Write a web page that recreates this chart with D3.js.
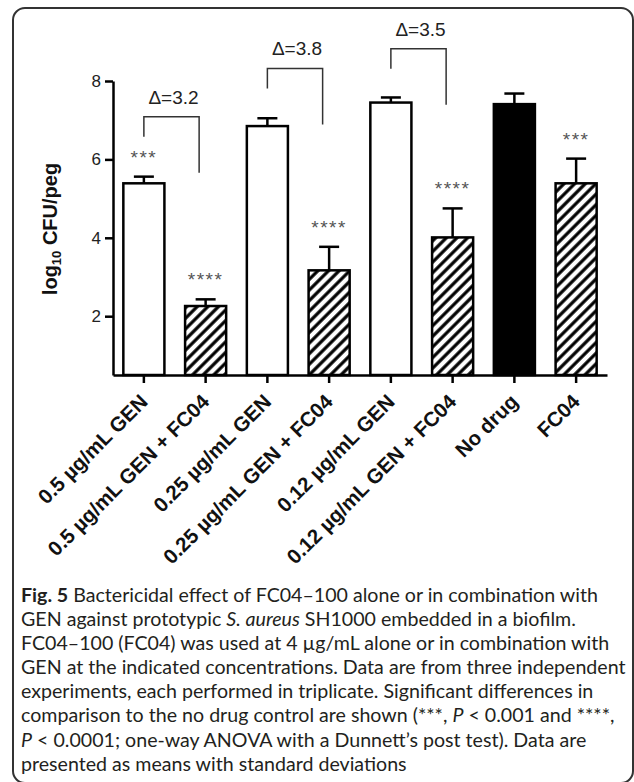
<!DOCTYPE html>
<html>
<head>
<meta charset="utf-8">
<script src="https://cdn.jsdelivr.net/npm/d3@7"></script>
<style>
  body { margin: 0; background: #fff; }
  svg { display: block; }
</style>
</head>
<body>
<div id="chart"></div>
<script>
// values
const groups = [
  "0.5 µg/mL GEN", "0.5 µg/mL GEN + FC04",
  "0.25 µg/mL GEN", "0.25 µg/mL GEN + FC04",
  "0.12 µg/mL GEN", "0.12 µg/mL GEN + FC04",
  "No drug", "FC04"
];
const means = [5.39, 2.26, 6.85, 3.17, 7.45, 4.01, 7.41, 5.39];
const sds = [0.17, 0.17, 0.20, 0.60, 0.13, 0.74, 0.27, 0.63];
const fillKinds = ["open", "hatch", "open", "hatch", "open", "hatch", "solid", "hatch"];
const stars = ["***", "****", "", "****", "", "****", "", "***"];
const yTicks = [2, 4, 6, 8];
const bracketPairs = [[0, 1], [2, 3], [4, 5]];
const bracketLevels = [7.09, 8.32, 8.82];
const deltas = ["Δ=3.2", "Δ=3.8", "Δ=3.5"];
const captionLines = [
  [["Fig. 5", "b"], [" Bactericidal effect of FC04–100 alone or in combination with", ""]],
  [["GEN against prototypic ", ""], ["S. aureus", "i"], [" SH1000 embedded in a biofilm.", ""]],
  [["FC04–100 (FC04) was used at 4 µg/mL alone or in combination with", ""]],
  [["GEN at the indicated concentrations. Data are from three independent", ""]],
  [["experiments, each performed in triplicate. Significant differences in", ""]],
  [["comparison to the no drug control are shown (***, ", ""], ["P", "i"], [" < 0.001 and ****,", ""]],
  [["P", "i"], [" < 0.0001; one-way ANOVA with a Dunnett’s post test). Data are", ""]],
  [["presented as means with standard deviations", ""]]
];

const W = 634, H = 782;
const svg = d3.select("#chart").append("svg")
  .attr("width", W).attr("height", H);

// hatch for the combination bars
const defs = svg.append("defs");
const pat = defs.append("pattern")
  .attr("id", "hatch")
  .attr("patternUnits", "userSpaceOnUse")
  .attr("width", 7.5).attr("height", 7.5)
  .attr("patternTransform", "rotate(45)");
pat.append("rect").attr("width", 7.5).attr("height", 7.5).attr("fill", "#fff");
pat.append("line")
  .attr("x1", 3.75).attr("y1", 0).attr("x2", 3.75).attr("y2", 7.5)
  .attr("stroke", "#000").attr("stroke-width", 3.2);

// rounded frame round the whole figure (its bottom edge runs off the page)
svg.append("rect")
  .attr("x", 13).attr("y", 8)
  .attr("width", 620).attr("height", 775)
  .attr("rx", 12)
  .attr("fill", "none").attr("stroke", "#333").attr("stroke-width", 2);

const x = d3.scaleBand()
  .domain(groups)
  .range([113, 607])
  .paddingInner(0.335)
  .paddingOuter(0.1675);

const y = d3.scaleLinear().domain([0.5, 8]).range([375, 81]);

function fillFor(k) {
  if (k == "hatch") return "url(#hatch)";
  if (k == "solid") return "#000";
  return "#fff";
}

const rows = groups.map((g, i) => ({ g: g, m: means[i], sd: sds[i], kind: fillKinds[i], star: stars[i] }));

// error bars (upper whisker only), drawn under the bars
const err = svg.append("g").attr("stroke", "#000").attr("stroke-width", 2.5);
err.selectAll("line.stem").data(rows).enter().append("line")
  .attr("class", "stem")
  .attr("x1", (d) => x(d.g) + x.bandwidth() / 2)
  .attr("x2", (d) => x(d.g) + x.bandwidth() / 2)
  .attr("y1", (d) => y(d.m))
  .attr("y2", (d) => y(d.m + d.sd));
err.selectAll("line.cap").data(rows).enter().append("line")
  .attr("class", "cap")
  .attr("x1", (d) => x(d.g) + x.bandwidth() / 2 - 10)
  .attr("x2", (d) => x(d.g) + x.bandwidth() / 2 + 10)
  .attr("y1", (d) => y(d.m + d.sd))
  .attr("y2", (d) => y(d.m + d.sd));

svg.append("g").selectAll("rect").data(rows).enter().append("rect")
  .attr("x", (d) => x(d.g))
  .attr("y", (d) => y(d.m))
  .attr("width", x.bandwidth())
  .attr("height", (d) => y(0.5) - y(d.m))
  .attr("fill", (d) => fillFor(d.kind))
  .attr("stroke", "#000")
  .attr("stroke-width", 2.5);

// significance stars
svg.append("g").selectAll("text").data(rows.filter((d) => d.star)).enter().append("text")
  .attr("x", (d) => x(d.g) + x.bandwidth() / 2)
  .attr("y", (d) => y(d.m + d.sd) - 13)
  .attr("text-anchor", "middle")
  .attr("font-family", "Liberation Sans, Arial, sans-serif")
  .attr("font-size", 19)
  .attr("letter-spacing", 1.5)
  .attr("fill", "#555")
  .text((d) => d.star);

// axes
const yAxis = svg.append("g")
  .attr("transform", "translate(113,0)")
  .call(d3.axisLeft(y).tickValues(yTicks).tickSize(8).tickSizeOuter(0).tickPadding(4));
const xAxis = svg.append("g")
  .attr("transform", "translate(0,375)")
  .call(d3.axisBottom(x).tickSize(8).tickSizeOuter(0));

[yAxis, xAxis].forEach((a) => {
  a.selectAll("path, line").attr("stroke", "#000").attr("stroke-width", 2.5);
});
yAxis.selectAll("text")
  .attr("font-family", "Liberation Sans, Arial, sans-serif")
  .attr("font-size", 17)
  .attr("fill", "#222");
xAxis.selectAll("text")
  .attr("x", 0).attr("y", 0).attr("dy", null)
  .attr("text-anchor", "end")
  .attr("transform", "translate(5,28) rotate(-45)")
  .attr("font-family", "Liberation Sans, Arial, sans-serif")
  .attr("font-weight", "bold")
  .attr("font-size", 20.5)
  .attr("fill", "#111");

// y title with subscript
const yt = svg.append("text")
  .attr("transform", "translate(57,229) rotate(-90)")
  .attr("text-anchor", "middle")
  .attr("font-family", "Liberation Sans, Arial, sans-serif")
  .attr("font-weight", "bold")
  .attr("font-size", 20)
  .attr("fill", "#111");
yt.append("tspan").text("log");
yt.append("tspan").attr("font-size", 13).attr("dy", 4).text("10");
yt.append("tspan").attr("dy", -4).text(" CFU/peg");

// delta brackets
const br = svg.append("g");
bracketPairs.forEach((p, i) => {
  const xl = x(groups[p[0]]) + x.bandwidth() / 2;
  const xr = x(groups[p[1]]) + x.bandwidth() / 2 - 6.5;
  const yb = y(bracketLevels[i]);
  br.append("path")
    .attr("d", `M${xl},${yb + 20}V${yb}H${xr}V${yb + 56}`)
    .attr("fill", "none")
    .attr("stroke", "#333")
    .attr("stroke-width", 1.5);
  br.append("text")
    .attr("x", (xl + xr) / 2 + 2)
    .attr("y", yb - 13)
    .attr("text-anchor", "middle")
    .attr("font-family", "Liberation Sans, Arial, sans-serif")
    .attr("font-size", 19)
    .attr("fill", "#222")
    .text(deltas[i]);
});

// caption
const cap = svg.append("g")
  .attr("font-family", "Lato, Open Sans, sans-serif")
  .attr("font-size", 19.5)
  .attr("fill", "#231f20");
const capText = cap.selectAll("text").data(captionLines).enter().append("text")
  .attr("x", 0)
  .attr("y", (d, i) => 602 + i * 24.1);
capText.each(function (segs) {
  const t = d3.select(this);
  segs.forEach((s) => {
    t.append("tspan")
      .attr("font-weight", s[1] == "b" ? "bold" : null)
      .attr("font-style", s[1] == "i" ? "italic" : null)
      .text(s[0]);
  });
});
// squeeze the lines horizontally so the widest one fits inside the frame
let widest = 0;
capText.each(function () { widest = Math.max(widest, this.getComputedTextLength()); });
cap.attr("transform", `translate(21,0) scale(${605 / widest},1)`);
</script>
</body>
</html>
